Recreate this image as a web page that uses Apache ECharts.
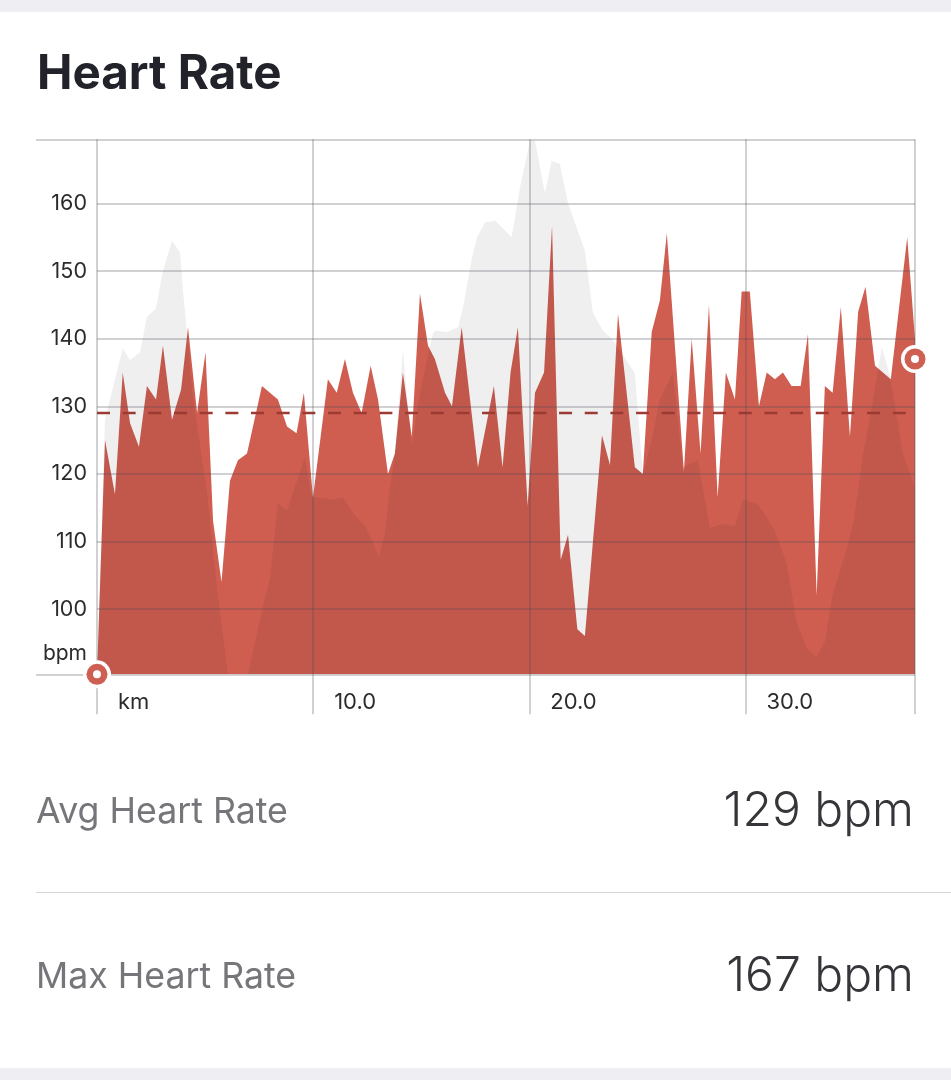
<!DOCTYPE html>
<html>
<head>
<meta charset="utf-8">
<style>html,body{margin:0;padding:0;background:#fff}#c{width:951px;height:1080px}</style>
<script src="https://cdn.jsdelivr.net/npm/echarts@6/dist/echarts.min.js"></script>
</head>
<body>
<div id="c"></div>
<script>
const hrKm = [0,0.37,0.83,1.19,1.53,1.94,2.31,2.73,3.05,3.47,3.89,4.21,4.63,5.02,5.37,5.76,6.15,6.52,6.94,7.63,8.37,8.79,9.23,9.57,9.99,10.68,11.09,11.47,11.84,12.24,12.66,13.0,13.46,13.78,14.15,14.56,14.94,15.31,15.63,16.1,16.42,16.87,17.62,18.36,18.76,19.13,19.47,19.92,20.26,20.68,21.05,21.45,21.79,22.22,22.57,23.36,23.73,24.1,24.88,25.25,25.66,26.04,26.36,27.15,27.51,27.92,28.31,28.71,29.09,29.51,29.82,30.2,30.62,30.98,31.36,31.73,32.13,32.55,32.89,33.29,33.67,34.03,34.41,34.83,35.21,35.55,35.99,36.72,37.48,37.84];
const hrValues = [90.35,125,117,135,127.5,124,133,131,139,128,132.5,141.7,129,138,113,104,119,122,123,133,131,127,126,132,116.5,134,132,137,132,129,136,131,120,123,135,125.5,146.7,139,137,132,130,141.7,121,133,121,135,141.7,115.3,132,135,156.7,107.3,111,97,96,125.7,121.3,143.7,121,120,141,145.7,155.6,120.3,140,123,145,116.5,135,131,147,147,130,135,134,135,133,133,140.7,102,133,132,144.7,125.5,144,147.7,136,134,155,140];
const elevKm = [0,0.37,1.19,1.53,1.99,2.31,2.73,3.05,3.47,3.84,3.98,4.15,4.44,5.09,5.54,6.06,6.98,7.68,8.0,8.37,8.79,9.25,9.62,9.94,10.92,11.38,11.84,12.4,12.77,13.04,13.32,13.51,13.78,14.15,14.56,14.94,15.54,15.63,16.19,16.7,16.93,17.35,17.58,17.95,18.41,19.18,19.57,20.03,20.26,20.72,21.03,21.41,21.79,22.57,22.94,23.4,23.87,24.88,25.25,25.66,26.04,26.64,27.1,27.8,28.35,28.89,29.51,29.88,30.53,30.8,31.36,31.91,32.38,32.84,33.29,33.67,34.03,34.69,35.0,35.43,35.85,36.31,36.72,37.27,37.84];
const elevValues = [90.35,128,138.6,136.8,138,143.2,144.5,150,154.5,152.8,147,141.3,131.3,117.2,103.5,90.35,90.35,100.4,104.4,115.7,114.6,119,122.5,116.6,116.2,116.5,114.2,112.2,109.8,107.7,111.3,117,123,138.3,124,132,140.8,141.2,141,141.7,144.6,152,155,157.2,157.5,155,162.4,169.3,169.3,161.5,166.3,165.9,160,153,143.8,141.2,139.8,134.9,120,125,131,135,121,122,112,112.6,112.3,116.2,115.5,114.5,111.5,106.7,97.8,94.2,92.9,95.2,102.2,109,113,122.8,130,138.8,134,123,118];
const yTicks = [100,110,120,130,140,150,160];
const xTicks = [0,10,20,30];
const xTickLabels = ['km','10.0','20.0','30.0'];
const yMin = 90.35, yMax = 169.5, xMax = 37.84;
const avgHr = 129, avgLineEndKm = 37.45;
const markerStart = [0,90.35], markerEnd = [37.84,137];
const stats = [['Avg Heart Rate','129 bpm'],['Max Heart Rate','167 bpm']];
const zip = (a,b)=>a.map((v,i)=>[v,b[i]]);

const gridColor = 'rgba(70,70,85,0.25)';
const font = 'Inter';
const markerSeries = (size,color,z)=>({type:'scatter',data:[markerStart,markerEnd],symbol:'circle',symbolSize:size,clip:false,silent:true,z,
  itemStyle:{color,opacity:1}});

const chart = echarts.init(document.getElementById('c'),null,{renderer:'canvas'});
chart.setOption({
  animation:false,
  backgroundColor:'#ffffff',
  grid:{left:97,right:36,top:139.3,bottom:405.7,containLabel:false},
  xAxis:{type:'value',min:0,max:xMax,z:5,
    axisLine:{show:false},
    axisTick:{show:true,customValues:xTicks.concat([xMax]),length:40,inside:false,lineStyle:{color:gridColor,width:2}},
    splitLine:{show:true,lineStyle:{color:gridColor,width:2}},
    axisLabel:{show:true,customValues:xTicks,margin:17,align:'left',padding:[0,0,0,21],color:'#2b2b2e',fontFamily:font,fontSize:22,
      formatter:v=>xTickLabels[xTicks.indexOf(v)]}
  },
  yAxis:[{type:'value',min:yMin,max:yMax,z:5,
    axisLine:{show:false},
    axisTick:{show:false,customValues:[yMin].concat(yTicks,[yMax])},
    splitLine:{show:true,lineStyle:{color:gridColor,width:2}},
    axisLabel:{show:true,customValues:yTicks,margin:10,color:'#2b2b2e',fontFamily:font,fontSize:21.5,formatter:v=>String(v)},
    name:'bpm',nameLocation:'start',nameGap:-21,
    nameTextStyle:{color:'#2b2b2e',fontFamily:font,fontSize:21,align:'right',verticalAlign:'middle',padding:[0,10,0,0]}
  },{type:'value',min:yMin,max:yMax,position:'left',z:5,
    axisLine:{show:false},splitLine:{show:false},axisLabel:{show:false},
    axisTick:{show:true,customValues:[yMin,yMax],length:61,lineStyle:{color:gridColor,width:2}}
  }],
  series:[
    {type:'line',name:'Heart Rate',data:zip(hrKm,hrValues),symbol:'none',z:2,lineStyle:{width:0},areaStyle:{color:'#cf5e50',opacity:1,origin:'start'}},
    {type:'line',name:'Elevation',data:zip(elevKm,elevValues),symbol:'none',z:3,lineStyle:{width:0},areaStyle:{color:'rgb(20,20,30)',opacity:0.066,origin:'start'}},
    {type:'line',name:'Average',data:[[0,avgHr],[avgLineEndKm,avgHr]],symbol:'none',z:4,lineStyle:{color:'#9c3a34',width:2.6,type:[13,12.67]}},
    markerSeries(28,'#ffffff',6),
    markerSeries(21,'#ce5f53',7),
    markerSeries(8,'#ffffff',8)
  ],
  graphic:[
    {type:'rect',silent:true,shape:{x:0,y:0,width:951,height:12},style:{fill:'#eeeef3'}},
    {type:'rect',silent:true,shape:{x:0,y:1068,width:951,height:12},style:{fill:'#eeeef3'}},
    {type:'text',silent:true,x:37,y:75,style:{text:'Heart Rate',fill:'#22232a',font:'700 47.5px Inter',textVerticalAlign:'middle'}},
    {type:'rect',silent:true,shape:{x:36,y:892,width:915,height:1},style:{fill:'#d5d5d8'}},
    {type:'text',silent:true,x:36,y:812,style:{text:stats[0][0],fill:'#76767a',font:'400 35.7px Inter',textVerticalAlign:'middle'}},
    {type:'text',silent:true,x:914,y:812,style:{text:stats[0][1],fill:'#36363a',font:'300 48px Inter',textAlign:'right',textVerticalAlign:'middle'}},
    {type:'text',silent:true,x:36,y:977,style:{text:stats[1][0],fill:'#76767a',font:'400 35.7px Inter',textVerticalAlign:'middle'}},
    {type:'text',silent:true,x:914,y:977,style:{text:stats[1][1],fill:'#36363a',font:'300 48px Inter',textAlign:'right',textVerticalAlign:'middle'}}
  ]
});
</script>
</body>
</html>
